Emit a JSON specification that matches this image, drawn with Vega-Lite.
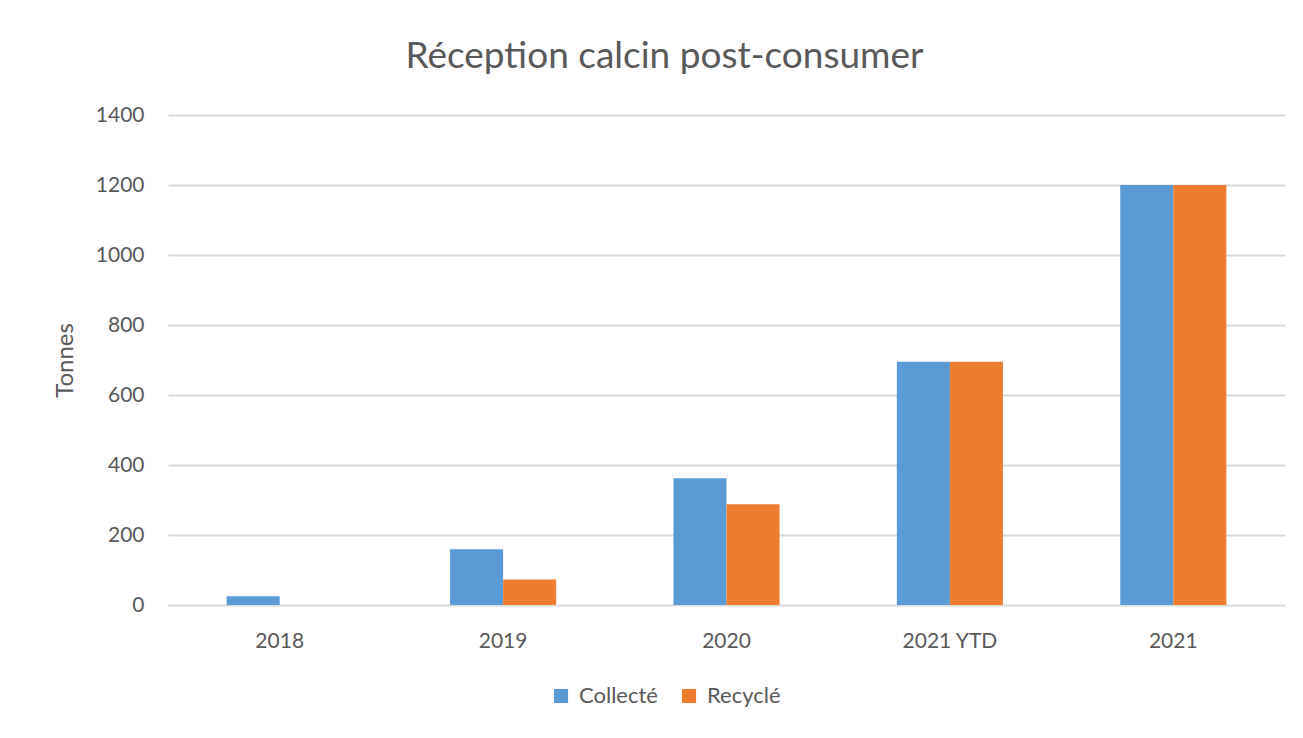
{
  "$schema": "https://vega.github.io/schema/vega-lite/v6.json",
  "width": 1117,
  "height": 490,
  "autosize": {"type": "none"},
  "padding": {"left": 168, "top": 115, "right": 18, "bottom": 133},
  "background": "white",
  "title": {
    "text": "Réception calcin post-consumer",
    "anchor": "middle",
    "dx": -62,
    "offset": 28,
    "font": "Lato",
    "fontSize": 37,
    "fontWeight": "normal",
    "color": "#595959"
  },
  "data": {
    "values": [
      {"annee": "2018", "serie": "Collecté", "tonnes": 25},
      {"annee": "2018", "serie": "Recyclé", "tonnes": 0},
      {"annee": "2019", "serie": "Collecté", "tonnes": 159},
      {"annee": "2019", "serie": "Recyclé", "tonnes": 73},
      {"annee": "2020", "serie": "Collecté", "tonnes": 362},
      {"annee": "2020", "serie": "Recyclé", "tonnes": 288},
      {"annee": "2021 YTD", "serie": "Collecté", "tonnes": 695},
      {"annee": "2021 YTD", "serie": "Recyclé", "tonnes": 695},
      {"annee": "2021", "serie": "Collecté", "tonnes": 1200},
      {"annee": "2021", "serie": "Recyclé", "tonnes": 1200}
    ]
  },
  "mark": {"type": "bar"},
  "encoding": {
    "x": {
      "field": "annee",
      "type": "nominal",
      "sort": ["2018", "2019", "2020", "2021 YTD", "2021"],
      "scale": {"paddingInner": 0.525, "paddingOuter": 0.2625},
      "axis": {
        "title": null,
        "labelAngle": 0,
        "labelFont": "Lato",
        "labelFontSize": 21,
        "labelColor": "#595959",
        "labelPadding": 25,
        "ticks": false,
        "domain": false,
        "grid": false
      }
    },
    "xOffset": {"field": "serie", "type": "nominal", "sort": ["Collecté", "Recyclé"]},
    "y": {
      "field": "tonnes",
      "type": "quantitative",
      "scale": {"domain": [0, 1400], "nice": false},
      "axis": {
        "title": "Tonnes",
        "titleFont": "Lato",
        "titleFontSize": 24,
        "titleFontWeight": "normal",
        "titleColor": "#595959",
        "titlePadding": 18,
        "values": [0, 200, 400, 600, 800, 1000, 1200, 1400],
        "format": "d",
        "labelFont": "Lato",
        "labelFontSize": 21,
        "labelColor": "#595959",
        "labelPadding": 24,
        "ticks": false,
        "domain": false,
        "grid": true,
        "gridColor": "#D9D9D9",
        "gridWidth": 2
      }
    },
    "color": {
      "field": "serie",
      "type": "nominal",
      "sort": ["Collecté", "Recyclé"],
      "scale": {"domain": ["Collecté", "Recyclé"], "range": ["#5B9BD5", "#ED7D31"]},
      "legend": {
        "title": null,
        "orient": "none",
        "direction": "horizontal",
        "legendX": 382,
        "legendY": 570,
        "symbolType": "square",
        "symbolSize": 200,
        "symbolOpacity": 1,
        "symbolStrokeWidth": 0,
        "labelFont": "Lato",
        "labelFontSize": 22,
        "labelColor": "#595959",
        "labelOffset": 7,
        "columnPadding": 20
      }
    }
  },
  "config": {"view": {"stroke": null}}
}
